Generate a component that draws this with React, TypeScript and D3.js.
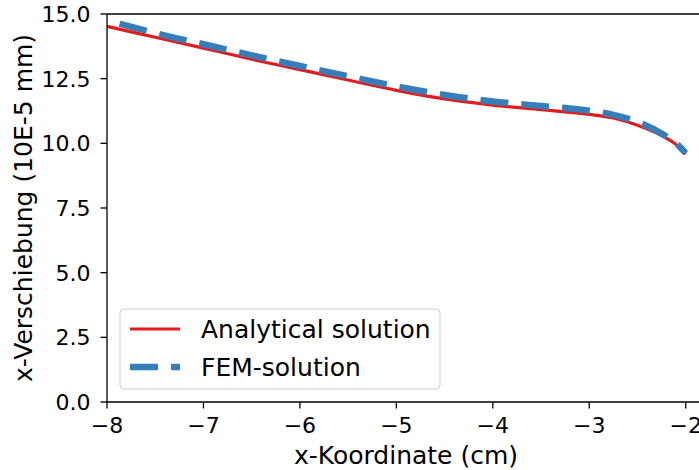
import React from "react";
import { scaleLinear, line, curveMonotoneX } from "d3";

const xAnalytical = [-8, -7.5, -7, -6.5, -6, -5.5, -5, -4.5, -4, -3.5, -3, -2.75, -2.5, -2.25, -2.1, -2];
const yAnalytical = [14.52, 14.1, 13.68, 13.25, 12.85, 12.45, 12.05, 11.72, 11.48, 11.3, 11.12, 10.98, 10.7, 10.3, 9.95, 9.58];

const xFem = [-7.87, -7.5, -7, -6.5, -6, -5.5, -5, -4.5, -4, -3.5, -3, -2.75, -2.5, -2.25, -2.1, -2];
const yFem = [14.62, 14.26, 13.83, 13.4, 12.99, 12.59, 12.2, 11.87, 11.62, 11.44, 11.26, 11.1, 10.83, 10.38, 10.0, 9.62];

const xTicks = [-8, -7, -6, -5, -4, -3, -2];
const yTicks = [0, 2.5, 5, 7.5, 10, 12.5, 15];
const labels = ["Analytical solution", "FEM-solution"];

const red = "#e41a1c";
const blue = "#377eb8";
const font = "DejaVu Sans";

const App = () => {
  const width = 699;
  const height = 470;
  const left = 107, right = 705, top = 14, bottom = 402;

  const x = scaleLinear().domain([-8, -1.8]).range([left, right]);
  const y = scaleLinear().domain([0, 15]).range([bottom, top]);

  const path = line<[number, number]>()
    .x((d) => x(d[0]))
    .y((d) => y(d[1]))
    .curve(curveMonotoneX);

  const analytical = path(xAnalytical.map((v, i) => [v, yAnalytical[i]]));
  const fem = path(xFem.map((v, i) => [v, yFem[i]]));
  const minus = (v: number) => (v < 0 ? "\u2212" + Math.abs(v) : String(v));

  return (
    <svg width={width} height={height} style={{ position: "absolute", left: 0, top: 0 }}>
      <rect width={width} height={height} fill="#fff" />
      <defs>
        <clipPath id="plot">
          <rect x={left} y={top} width={right - left} height={bottom - top} />
        </clipPath>
      </defs>
      <g clipPath="url(#plot)">
        <path d={analytical ?? ""} fill="none" stroke={red} strokeWidth={3.2} />
        <path d={fem ?? ""} fill="none" stroke={blue} strokeWidth={6.5} strokeDasharray="28,13" />
      </g>

      {/* spines */}
      <line x1={left} x2={left} y1={top} y2={bottom} stroke="#000" strokeWidth={1.3} />
      <line x1={left} x2={right} y1={bottom} y2={bottom} stroke="#000" strokeWidth={1.3} />
      <line x1={left} x2={right} y1={top} y2={top} stroke="#000" strokeWidth={1.3} />
      <line x1={right} x2={right} y1={top} y2={bottom} stroke="#000" strokeWidth={1.3} />

      {yTicks.map((t) => (
        <g key={t}>
          <line x1={left - 6.5} x2={left} y1={y(t)} y2={y(t)} stroke="#000" strokeWidth={1.3} />
          <text x={left - 16.5} y={y(t)} dy="0.36em" textAnchor="end" fontFamily={font} fontSize={22}>
            {t.toFixed(1)}
          </text>
        </g>
      ))}
      {xTicks.map((t) => (
        <g key={t}>
          <line x1={x(t)} x2={x(t)} y1={bottom} y2={bottom + 6.5} stroke="#000" strokeWidth={1.3} />
          <text x={x(t)} y={bottom + 31} textAnchor="middle" fontFamily={font} fontSize={22}>
            {minus(t)}
          </text>
        </g>
      ))}

      <text x={(left + right) / 2} y={464} textAnchor="middle" fontFamily={font} fontSize={25}>
        x-Koordinate (cm)
      </text>
      <text
        transform={`translate(32,${(top + bottom) / 2}) rotate(-90)`}
        textAnchor="middle"
        fontFamily={font}
        fontSize={25}
      >
        x-Verschiebung (10E-5 mm)
      </text>

      {/* legend */}
      <rect x={120} y={309} width={320} height={80} rx={4} fill="#fff" fillOpacity={0.8} stroke="#cccccc" strokeWidth={1} />
      <line x1={130} x2={180} y1={329} y2={329} stroke={red} strokeWidth={3.2} />
      <line x1={130} x2={180} y1={367} y2={367} stroke={blue} strokeWidth={6.5} strokeDasharray="28,13" />
      <text x={201} y={329} dy="0.36em" fontFamily={font} fontSize={25}>{labels[0]}</text>
      <text x={201} y={367} dy="0.36em" fontFamily={font} fontSize={25}>{labels[1]}</text>
    </svg>
  );
};

export default App;
